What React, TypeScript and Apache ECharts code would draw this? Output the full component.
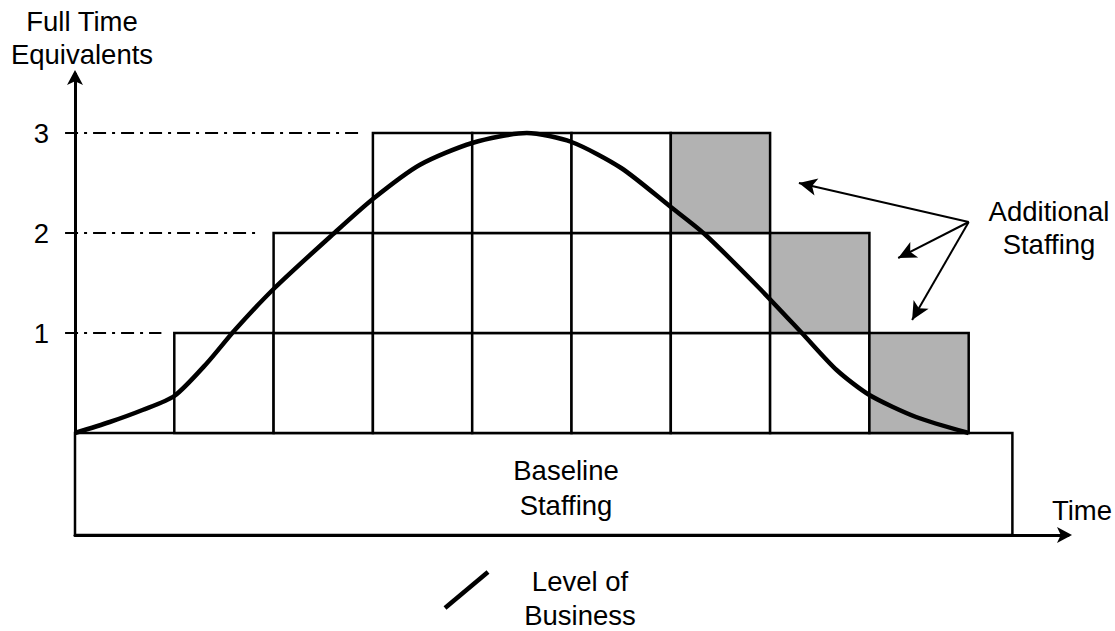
import React, { useEffect, useRef } from "react";
import * as echarts from "echarts";

// Staffing blocks: column index (left edge), baseline levels, additional (gray) levels
const cellCols = [1, 2, 3, 4, 5, 6, 7, 8];
const baseLevels = [1, 2, 3, 3, 3, 2, 1, 0];
const extraLevels = [0, 0, 0, 0, 0, 1, 1, 1];

// Baseline staffing block [xStart, xEnd, yBottom, yTop]
const baselineBlock = [[0, 9.44, -1.02, 0]];

// Level of business curve [time, FTE]
const curveX = [0, 0.35, 0.68, 1.0, 1.33, 1.61, 2.01, 2.6, 3.0, 3.47, 4.0, 4.55, 5.0, 5.5, 6.0, 6.34, 6.89, 7.32, 7.67, 8.0, 8.47, 9.0];
const curveY = [0, 0.11, 0.23, 0.37, 0.7, 1.03, 1.45, 1.99, 2.34, 2.68, 2.9, 3.0, 2.91, 2.65, 2.26, 1.99, 1.45, 1.0, 0.63, 0.38, 0.16, 0];

// Reference (dash-dot) lines: level, start, end
const refLevels = [1, 2, 3];
const refStart = -0.1;
const refEnds = [0.87, 1.86, 2.87];

// Y tick labels
const yTicks = [1, 2, 3];

// Annotation arrows for "Additional Staffing"
const arrowFrom = [9.0, 2.11];
const arrowTips = [
  [7.29, 2.5],
  [8.29, 1.75],
  [8.43, 1.13],
];

const FONT = "'Liberation Sans', Arial, sans-serif";
const FS = 27.5;

export default function App() {
  const ref = useRef<HTMLDivElement>(null);
  useEffect(() => {
    document.body.style.margin = "0";
    const chart = echarts.init(ref.current!, null, { renderer: "svg" });

    const cells: number[][] = [];
    cellCols.forEach((c, i) => {
      for (let l = 0; l < baseLevels[i]; l++) cells.push([c, l, 0]);
      for (let l = 0; l < extraLevels[i]; l++) cells.push([c, baseLevels[i] + l, 1]);
    });

    const curve = curveX.map((x, i) => [x, curveY[i]]);
    const refData = refLevels.map((l, i) => [l, refStart, refEnds[i]]);

    const textStyle = (text: string, lh: number) => ({
      text,
      fontSize: FS,
      fontFamily: FONT,
      fill: "#000",
      align: "center",
      verticalAlign: "middle",
      lineHeight: lh,
    });

    const option: any = {
      animation: false,
      backgroundColor: "#ffffff",
      grid: { left: 75, right: 47, top: 74, bottom: 96 },
      xAxis: {
        type: "value",
        min: 0,
        max: 10,
        axisLine: {
          show: true,
          onZero: false,
          symbol: ["none", "arrow"],
          symbolSize: [12, 15],
          symbolOffset: [0, 4],
          lineStyle: { color: "#000", width: 3 },
        },
        axisTick: { show: false },
        axisLabel: { show: false },
        splitLine: { show: false },
      },
      yAxis: {
        type: "value",
        min: -1.02,
        max: 3.59,
        axisLine: {
          show: true,
          onZero: false,
          symbol: ["none", "arrow"],
          symbolSize: [12, 15],
          symbolOffset: [0, 4],
          lineStyle: { color: "#000", width: 3 },
        },
        axisTick: { show: false },
        axisLabel: {
          show: true,
          customValues: yTicks,
          margin: 26,
          color: "#000",
          fontSize: FS,
          fontFamily: FONT,
        },
        splitLine: { show: false },
      },
      series: [
        {
          type: "custom",
          name: "baseline",
          data: baselineBlock,
          z: 1,
          renderItem: (params: any, api: any) => {
            const p0 = api.coord([api.value(0), api.value(3)]);
            const p1 = api.coord([api.value(1), api.value(2)]);
            return {
              type: "rect",
              shape: { x: p0[0], y: p0[1], width: p1[0] - p0[0], height: p1[1] - p0[1] },
              style: { fill: "#fff", stroke: "#000", lineWidth: 2.5 },
            };
          },
        },
        {
          type: "custom",
          name: "cells",
          data: cells,
          z: 2,
          renderItem: (params: any, api: any) => {
            const x = api.value(0);
            const y = api.value(1);
            const p0 = api.coord([x, y + 1]);
            const p1 = api.coord([x + 1, y]);
            return {
              type: "rect",
              shape: { x: p0[0], y: p0[1], width: p1[0] - p0[0], height: p1[1] - p0[1] },
              style: { fill: api.value(2) ? "#b2b2b2" : "#fff", stroke: "#000", lineWidth: 2.5 },
            };
          },
        },
        {
          type: "custom",
          name: "refLines",
          data: refData,
          z: 2,
          renderItem: (params: any, api: any) => {
            const l = api.value(0);
            const a = api.coord([api.value(1), l]);
            const b = api.coord([api.value(2), l]);
            return {
              type: "line",
              shape: { x1: a[0], y1: a[1], x2: b[0], y2: b[1] },
              style: { stroke: "#000", lineWidth: 2, lineDash: [13, 6, 3, 6] },
            };
          },
        },
        {
          type: "line",
          name: "Level of Business",
          data: curve,
          smooth: 0.25,
          showSymbol: false,
          z: 5,
          lineStyle: { color: "#000", width: 4.5 },
          markLine: {
            silent: true,
            symbol: ["none", "arrow"],
            symbolSize: [13, 18],
            label: { show: false },
            lineStyle: { color: "#000", width: 2, type: "solid" },
            data: arrowTips.map((t) => [{ coord: arrowFrom }, { coord: t }]),
          },
        },
      ],
      graphic: [
        { type: "text", x: 82, y: 38, style: textStyle("Full Time\nEquivalents", 33) },
        { type: "text", x: 1049, y: 228, style: textStyle("Additional\nStaffing", 33) },
        { type: "text", x: 566, y: 488, z: 10, style: textStyle("Baseline\nStaffing", 35) },
        { type: "text", x: 580, y: 598, style: textStyle("Level of\nBusiness", 34) },
        { type: "text", x: 1082, y: 510, style: textStyle("Time", 30) },
        {
          type: "line",
          shape: { x1: 445, y1: 608, x2: 488, y2: 572 },
          style: { stroke: "#000", lineWidth: 4.5 },
        },
      ],
    };
    chart.setOption(option);
    return () => chart.dispose();
  }, []);
  return <div ref={ref} style={{ position: "fixed", left: 0, top: 0, width: 1115, height: 631 }} />;
}
